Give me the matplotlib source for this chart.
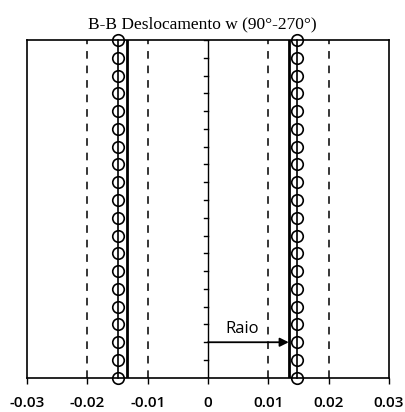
import matplotlib
matplotlib.use("Agg")
from matplotlib import pyplot as plt

# --------------- Data ---------------
secao = [0, 1, 2, 3, 4, 5, 6, 7, 8, 9, 10, 11, 12, 13, 14, 15, 16, 17, 18, 19]
w_esq = [-0.0150, -0.0150, -0.0150, -0.0150, -0.0150, -0.0150, -0.0150,
         -0.0150, -0.0150, -0.0150, -0.0150, -0.0150, -0.0150, -0.0150,
         -0.0150, -0.0150, -0.0150, -0.0150, -0.0150, -0.0150]
w_dir = [0.0148, 0.0148, 0.0148, 0.0148, 0.0148, 0.0148, 0.0148,
         0.0148, 0.0148, 0.0148, 0.0148, 0.0148, 0.0148, 0.0148,
         0.0148, 0.0148, 0.0148, 0.0148, 0.0148, 0.0148]
raio = 0.0134
guias = [-0.02, -0.01, 0.01, 0.02]
x_ticks = [-0.03, -0.02, -0.01, 0, 0.01, 0.02, 0.03]
x_labels = ["-0.03", "-0.02", "-0.01", "0", "0.01", "0.02", "0.03"]
y_seta = 2

plt.rcParams['font.family'] = ['Liberation Serif', 'DejaVu Serif']

fig = plt.figure(figsize=(4.05, 4.12), dpi=100)
ax = fig.add_axes([0.067, 0.083, 0.893, 0.820])

# dashed guide lines
for g in guias:
    ax.plot([g, g], [secao[0], secao[-1]], color='black', lw=1.1,
            dashes=(5, 4.5))

# undeformed radius (thick solid)
ax.plot([-raio, -raio], [secao[0], secao[-1]], color='black', lw=2)
ax.plot([raio, raio], [secao[0], secao[-1]], color='black', lw=2)

# displacement w with open circles
ax.plot(w_esq, secao, color='black', lw=1.2, marker='o', ms=8.3,
        mfc='none', mec='black', mew=1.2, clip_on=False, zorder=5)
ax.plot(w_dir, secao, color='black', lw=1.2, marker='o', ms=8.3,
        mfc='none', mec='black', mew=1.2, clip_on=False, zorder=5)

# center axis with ticks on the left
ax.plot([0, 0], [secao[0], secao[-1]], color='black', lw=1)
for s in secao:
    ax.plot([-0.0007, 0], [s, s], color='black', lw=1)

# "Raio" arrow
ax.annotate("", xy=(raio, y_seta), xytext=(0, y_seta),
            arrowprops=dict(arrowstyle='-|>', color='black', lw=1.3,
                            mutation_scale=13, shrinkA=0, shrinkB=0))
ax.text(raio / 2 - 0.0010, y_seta + 0.3, "Raio", fontsize=12,
        family='Open Sans', ha='center', va='bottom')

ax.set_xlim(-0.03, 0.03)
ax.set_ylim(secao[0], secao[-1])
ax.set_xticks(x_ticks)
ax.set_xticklabels(x_labels, fontsize=11, family='Open Sans',
                   fontweight='semibold')
ax.set_yticks([])
ax.tick_params(axis='x', direction='out', length=4, width=1, pad=9)
for sp in ax.spines.values():
    sp.set_linewidth(1.2)

fig.suptitle("B-B Deslocamento w (90°-270°)", fontsize=12.5, y=0.96)

fig.savefig("out.png", dpi=100)
